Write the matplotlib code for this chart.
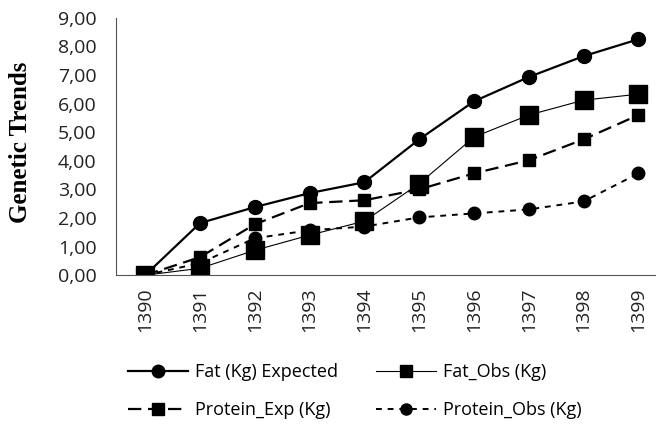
import matplotlib
matplotlib.use("Agg")
import matplotlib.pyplot as plt
from matplotlib.ticker import FuncFormatter

years = ["1390", "1391", "1392", "1393", "1394", "1395", "1396", "1397", "1398", "1399"]
fat_expected = [0.00, 1.82, 2.38, 2.87, 3.25, 4.75, 6.08, 6.93, 7.66, 8.25]
fat_obs = [0.00, 0.24, 0.87, 1.40, 1.89, 3.20, 4.83, 5.60, 6.12, 6.33]
protein_exp = [0.00, 0.63, 1.78, 2.52, 2.62, 3.00, 3.56, 4.02, 4.75, 5.60]
protein_obs = [0.00, 0.42, 1.29, 1.57, 1.70, 2.02, 2.16, 2.30, 2.58, 3.56]

plt.rcParams['font.family'] = ['Open Sans', 'DejaVu Sans']

fig = plt.figure(figsize=(6.56, 4.24), dpi=100)
ax = fig.add_axes([0.177, 0.351, 0.823, 0.607])

x = range(len(years))
l1, = ax.plot(x, fat_expected, color='black', lw=1.6, marker='o', ms=10, label='Fat (Kg) Expected')
l2, = ax.plot(x, fat_obs, color='black', lw=0.8, marker='s', ms=13, label='Fat_Obs (Kg)')
l3, = ax.plot(x, protein_exp, color='black', lw=1.6, ls=(0, (6, 3)), marker='s', ms=9, label='Protein_Exp (Kg)')
l4, = ax.plot(x, protein_obs, color='black', lw=1.4, ls=(0, (3, 3)), marker='o', ms=9, label='Protein_Obs (Kg)')

ax.set_xlim(-0.53, 9.32)
ax.set_ylim(0, 9)
ax.set_yticks(range(0, 10))
ax.yaxis.set_major_formatter(FuncFormatter(lambda v, p: f"{v:.2f}".replace('.', ',')))
ax.set_xticks(list(x))
ax.set_xticklabels(years, rotation=90)
ax.tick_params(axis='both', length=0, labelsize=14, colors='#222222')
ax.tick_params(axis='x', pad=9)
ax.tick_params(axis='y', pad=14)

for s in ['top', 'right']:
    ax.spines[s].set_visible(False)
ax.spines['left'].set_color('#555555')
ax.spines['bottom'].set_color('#555555')

ax.set_ylabel('Genetic Trends', fontsize=18, fontweight='bold', family='Liberation Serif')
ax.yaxis.set_label_coords(-0.155, 0.517)

# row-major order like the original: Fat Exp, Fat Obs / Protein Exp, Protein Obs
leg = fig.legend([l1, l3, l2, l4], [l1.get_label(), l3.get_label(), l2.get_label(), l4.get_label()],
                 loc='center left', bbox_to_anchor=(0.171, 0.078), ncol=2, frameon=False,
                 fontsize=13, handlelength=3.3, handletextpad=0.4, columnspacing=2.1,
                 labelspacing=1.1)
for h, ms in zip(leg.legend_handles, [9, 8, 8, 8]):
    h.set_markersize(ms)

fig.savefig('out.png', dpi=100)
